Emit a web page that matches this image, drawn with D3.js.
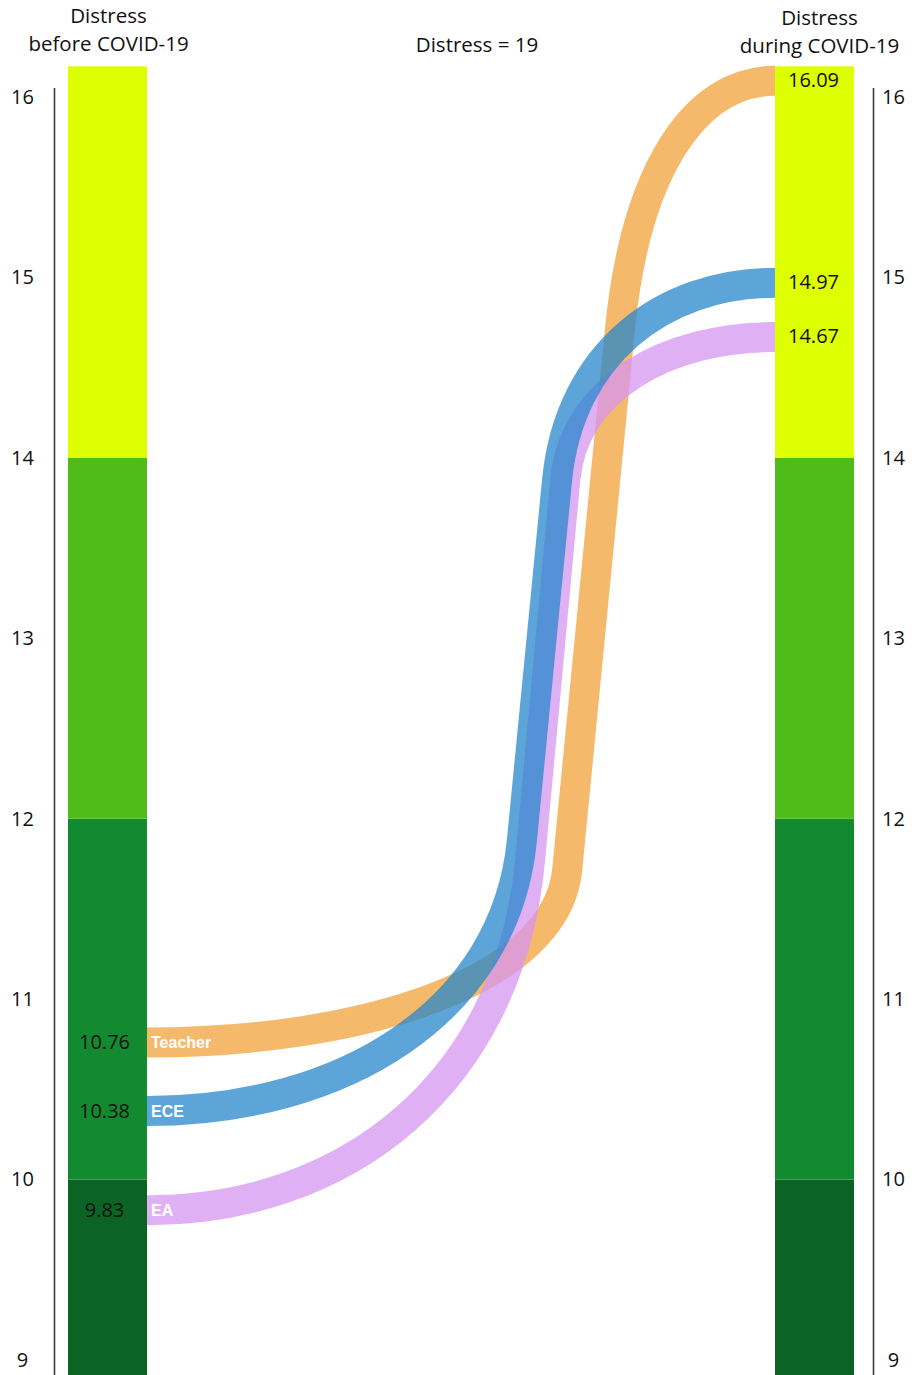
<!DOCTYPE html>
<html>
<head>
<meta charset="utf-8">
<script src="https://cdn.jsdelivr.net/npm/d3@7"></script>
<style>
  html, body { margin: 0; padding: 0; background: #fff; }
  svg { display: block; }
  text { font-family: "Open Sans", "Noto Sans", sans-serif; }
</style>
</head>
<body>
<svg id="chart" width="919" height="1375"></svg>
<script>
// ---------- data ----------
const categories = ["Teacher", "ECE", "EA"];
const beforeValues = [10.76, 10.38, 9.83];
const duringValues = [16.09, 14.97, 14.67];
const tickValues = [9, 10, 11, 12, 13, 14, 15, 16];
const bandBreaks = [8.9, 10, 12, 14, 16.17];
const columnTitles = [["Distress", "before COVID-19"], ["Distress", "during COVID-19"]];
const middleTitle = "Distress = 19";

// ---------- styles / layout ----------
const bandColors = ["#0C6424", "#138A2F", "#4FBC19", "#DEFF00"];
const seriesColors = ["#F2A23A", "#2787CB", "#D696F2"];
const drawOrder = [0, 2, 1];
// shape of each link: fractions of horizontal gap (x) and of vertical travel (y)
const linkShape = [
  { ax: 0.669, ay: 0.179, bx: 0.753, by: 0.741 },
  { ax: 0.597, ay: 0.327, bx: 0.653, by: 0.762 },
  { ax: 0.610, ay: 0.401, bx: 0.666, by: 0.836 }
];
const KH = 0.52, KV = 0.64; // curve handle factors (horizontal end / steep end)

const svg = d3.select("#chart");
const y = d3.scaleLinear().domain([9, 16]).range([1360, 97]);
const colX = d3.scaleOrdinal().domain(["before", "during"]).range([68, 775]);
const barW = 79;
const x0 = colX("before") + barW, x1 = colX("during");

// ---------- bars ----------
const bands = d3.range(bandColors.length).map(i => ({ lo: bandBreaks[i], hi: bandBreaks[i + 1], c: bandColors[i] }));
["before", "during"].forEach(col => {
  svg.append("g").selectAll("rect").data(bands).join("rect")
    .attr("x", colX(col)).attr("width", barW)
    .attr("y", d => y(d.hi)).attr("height", d => y(d.lo) - y(d.hi))
    .attr("fill", d => d.c);
});

// ---------- links ----------
function linkPath(i) {
  const ya = y(beforeValues[i]), yb = y(duringValues[i]);
  const s = linkShape[i];
  const gap = x1 - x0, dv = ya - yb;
  const A = [x0 + s.ax * gap, ya - s.ay * dv];
  const B = [x0 + s.bx * gap, ya - s.by * dv];
  let dx = B[0] - A[0], dy = B[1] - A[1];
  const len = Math.hypot(dx, dy); dx /= len; dy /= len;
  const h1 = KV * (ya - A[1]);
  const h2 = KV * (B[1] - yb);
  const p = d3.path();
  p.moveTo(x0, ya);
  p.bezierCurveTo(x0 + KH * (A[0] - x0), ya, A[0] - h1 * dx, A[1] - h1 * dy, A[0], A[1]);
  p.lineTo(B[0], B[1]);
  p.bezierCurveTo(B[0] + h2 * dx, B[1] + h2 * dy, x1 - KH * (x1 - B[0]), yb, x1, yb);
  return p.toString();
}
svg.append("g").selectAll("path").data(drawOrder).join("path")
  .attr("d", i => linkPath(i))
  .attr("fill", "none")
  .attr("stroke", i => seriesColors[i])
  .attr("stroke-opacity", 0.75)
  .attr("stroke-width", 30);

// ---------- axes ----------
const fmt = d3.format("d");
const axL = svg.append("g").attr("transform", "translate(54.5,0)")
  .call(d3.axisLeft(y).tickValues(tickValues).tickFormat(fmt).tickSize(0).tickPadding(0));
axL.select(".domain").remove();
axL.selectAll("text").attr("x", -32).attr("text-anchor", "middle")
  .style("font-size", "20px").style("font-family", "'Open Sans', sans-serif").attr("fill", "#111");
svg.append("line").attr("x1", 54.5).attr("x2", 54.5).attr("y1", y(16.05)).attr("y2", y(8.9))
  .attr("stroke", "#333").attr("stroke-width", 1.5);

const axR = svg.append("g").attr("transform", "translate(873.5,0)")
  .call(d3.axisRight(y).tickValues(tickValues).tickFormat(fmt).tickSize(0).tickPadding(0));
axR.select(".domain").remove();
axR.selectAll("text").attr("x", 20).attr("text-anchor", "middle")
  .style("font-size", "20px").style("font-family", "'Open Sans', sans-serif").attr("fill", "#111");
svg.append("line").attr("x1", 873.5).attr("x2", 873.5).attr("y1", y(16.05)).attr("y2", y(8.9))
  .attr("stroke", "#333").attr("stroke-width", 1.5);

// ---------- value labels ----------
svg.append("g").selectAll("text").data(categories).join("text")
  .attr("x", colX("before") + barW / 2 - 3)
  .attr("y", (d, i) => y(beforeValues[i]))
  .attr("dy", "0.35em").attr("text-anchor", "middle")
  .attr("font-size", 20).attr("fill", "#111")
  .text((d, i) => beforeValues[i].toFixed(2));

svg.append("g").selectAll("text").data(categories).join("text")
  .attr("x", colX("during") + barW / 2 - 1)
  .attr("y", (d, i) => y(duringValues[i]))
  .attr("dy", "0.3em").attr("text-anchor", "middle")
  .attr("font-size", 20).attr("fill", "#111")
  .text((d, i) => duringValues[i].toFixed(2));

svg.append("g").selectAll("text").data(categories).join("text")
  .attr("x", x0 + 4)
  .attr("y", (d, i) => y(beforeValues[i]))
  .attr("dy", "0.36em")
  .style("font-family", "'Liberation Sans', Arial, sans-serif")
  .attr("font-weight", "bold").attr("font-size", 16).attr("fill", "#fff")
  .text(d => d);

// ---------- titles ----------
const titleX = [colX("before") + barW / 2 + 1, colX("during") + barW / 2 + 5];
columnTitles.forEach((lines, k) => {
  const t = svg.append("text").attr("text-anchor", "middle").attr("font-size", 20.5).attr("fill", "#111");
  lines.forEach((ln, j) => {
    t.append("tspan").attr("x", titleX[k]).attr("y", (k === 0 ? 23 : 25) + j * 28).text(ln);
  });
});
svg.append("text").attr("x", 477).attr("y", 52).attr("text-anchor", "middle")
  .attr("font-size", 20.5).attr("fill", "#111").text(middleTitle);
</script>
</body>
</html>
